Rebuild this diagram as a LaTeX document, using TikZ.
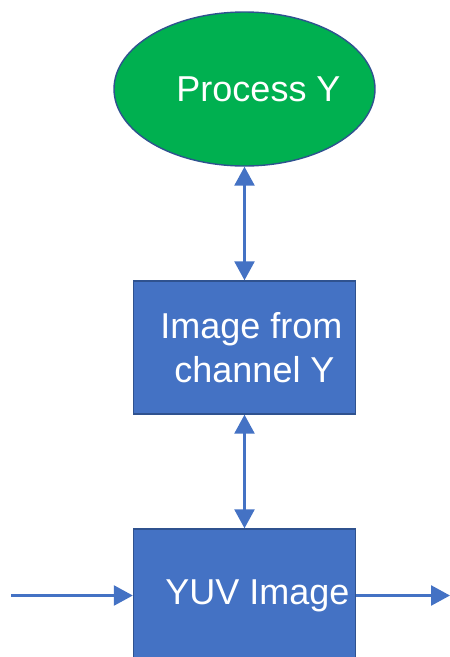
\documentclass[tikz,border=0pt]{standalone}
\usepackage{fontspec}
\setmainfont{Liberation Sans}
\usetikzlibrary{arrows.meta,shapes.geometric}

\definecolor{procgreen}{HTML}{00B050}
\definecolor{imgblue}{HTML}{4472C4}
\definecolor{edgeblue}{HTML}{2F528F}

\begin{document}
\begin{tikzpicture}[x=1pt, y=1pt, <->, >={Triangle[width=20pt,length=19pt]}, node distance=258.5pt]
				\tikzstyle{every node} = [text=white, font=\fontsize{36}{44}\selectfont, draw=edgeblue, line width=1.4pt, inner sep=0pt];
				\tikzstyle{process} = [ellipse, fill=procgreen, minimum width=261pt, minimum height=154pt];
				\tikzstyle{block} = [rectangle, fill=imgblue, minimum width=222pt, minimum height=133pt, align=center];
				\tikzstyle{link} = [color=imgblue, line width=2.6pt];
				\useasboundingbox (0,0) rectangle (450,-657);

				\node[process] (P) at (244.5,-89) {\hspace*{14pt}Process Y\hspace*{-14pt}};
				
				\node[block] (C) [below of=P] {\hspace*{14pt}Image from\\\hspace*{20pt}channel Y};
				
				\node[block] (V) [below of=C, node distance=248pt] {\hspace*{13pt}YUV Image\hspace*{-13pt}};
				
				\coordinate (in) at (11,-595.5);
				\coordinate (out) at (450,-595.5);
				
				\path[link] (P) edge (C)
					  (C) edge (V);
				\draw[link, ->] (in) -- (V);
				\draw[link, ->] (V) -- (out);
			\end{tikzpicture}
\end{document}
